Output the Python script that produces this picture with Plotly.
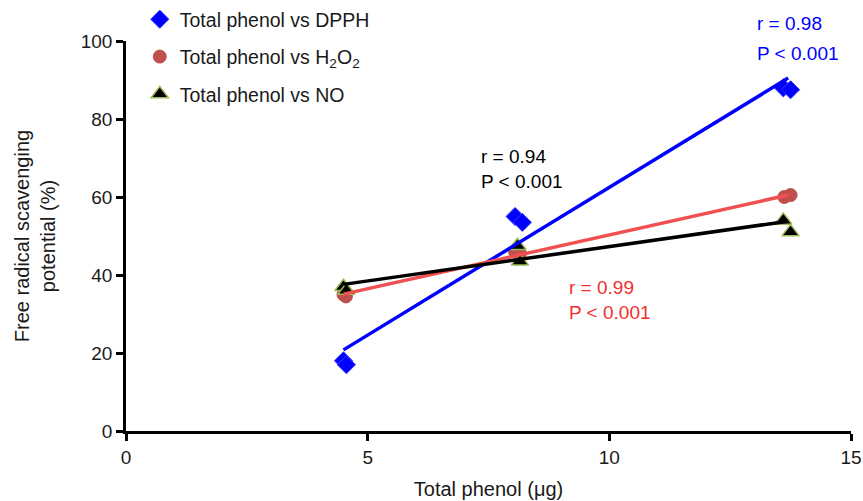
import plotly.graph_objects as go

# Data
dpph_x = [4.5, 4.56, 8.05, 8.2, 13.6, 13.75]
dpph_y = [18.0, 17.0, 55.0, 53.5, 88.0, 87.5]
h2o2_x = [4.5, 4.55, 8.05, 8.15, 13.62, 13.75]
h2o2_y = [35.0, 34.5, 46.0, 45.5, 60.0, 60.5]
no_x = [4.5, 4.56, 8.1, 8.15, 13.6, 13.75]
no_y = [37.0, 36.0, 47.5, 43.5, 54.0, 51.0]

fit_x = [4.5, 13.7]
fit_dpph = [20.8, 90.5]
fit_h2o2 = [35.1, 60.5]
fit_no = [37.6, 53.8]

x_ticks = [0, 5, 10, 15]
y_ticks = [0, 20, 40, 60, 80, 100]

FONT = "Liberation Sans, Arial, sans-serif"
TXT = "#1a1a1a"

fig = go.Figure()

fig.add_trace(go.Scatter(x=dpph_x, y=dpph_y, mode="markers", name="Total phenol vs DPPH",
                         legendgroup="a",
                         marker=dict(symbol="diamond", size=14, color="#0000ff",
                                     line=dict(color="#3a3aff", width=1))))
fig.add_trace(go.Scatter(x=h2o2_x, y=h2o2_y, mode="markers",
                         name="Total phenol vs H<sub>2</sub>O<sub>2</sub>",
                         legendgroup="b",
                         marker=dict(symbol="circle", size=13, color="#c0504d",
                                     line=dict(color="#c0504d", width=1))))
fig.add_trace(go.Scatter(x=no_x, y=no_y, mode="markers", name="Total phenol vs NO",
                         legendgroup="c",
                         marker=dict(symbol="triangle-up", size=15, color="#000000",
                                     line=dict(color="#9bbb59", width=1.5))))

fig.add_trace(go.Scatter(x=fit_x, y=fit_dpph, mode="lines", showlegend=False,
                         line=dict(color="#0000ff", width=3.5)))
fig.add_trace(go.Scatter(x=fit_x, y=fit_h2o2, mode="lines", showlegend=False,
                         line=dict(color="#f05050", width=3.5)))
fig.add_trace(go.Scatter(x=fit_x, y=fit_no, mode="lines", showlegend=False,
                         line=dict(color="#000000", width=3.5)))

ann_font = dict(family=FONT, size=19)
fig.add_annotation(x=0.868, y=1.046, xref="paper", yref="paper", text="r = 0.98",
                   showarrow=False, align="left", xanchor="left", yanchor="middle",
                   font=dict(color="#0000ff", **ann_font))
fig.add_annotation(x=0.868, y=0.967, xref="paper", yref="paper", text="P < 0.001",
                   showarrow=False, align="left", xanchor="left", yanchor="middle",
                   font=dict(color="#0000ff", **ann_font))
fig.add_annotation(x=7.3, y=67.2, xref="x", yref="y", text="r = 0.94<br>P < 0.001",
                   showarrow=False, align="left", xanchor="left", yanchor="middle",
                   font=dict(color="#000000", **ann_font))
fig.add_annotation(x=9.12, y=33.5, xref="x", yref="y", text="r = 0.99<br>P < 0.001",
                   showarrow=False, align="left", xanchor="left", yanchor="middle",
                   font=dict(color="#f03030", **ann_font))

fig.update_layout(
    width=863, height=501,
    margin=dict(l=126, r=12, t=41, b=70, autoexpand=False),
    paper_bgcolor="white", plot_bgcolor="white",
    font=dict(family=FONT, size=19, color=TXT),
    legend=dict(x=0.019, y=1.105, xanchor="left", yanchor="top",
                bgcolor="rgba(0,0,0,0)", tracegroupgap=9,
                font=dict(family=FONT, size=19.5, color=TXT),
                itemwidth=30),
    xaxis=dict(range=[0, 15], tickvals=x_ticks, showgrid=False, zeroline=False,
               showline=True, linecolor="black", linewidth=2.5,
               ticks="outside", ticklen=7, tickwidth=2.5, tickcolor="black",
               tickfont=dict(family=FONT, size=19, color=TXT),
               title=dict(text="Total phenol (μg)", standoff=16,
                          font=dict(family=FONT, size=20, color=TXT))),
    yaxis=dict(range=[0, 100], tickvals=y_ticks, showgrid=False, zeroline=False,
               showline=True, linecolor="black", linewidth=2.5,
               ticks="outside", ticklen=7, tickwidth=2.5, tickcolor="black",
               tickfont=dict(family=FONT, size=19, color=TXT),
               title=dict(text="Free radical scavenging<br>potential (%)", standoff=20,
                          font=dict(family=FONT, size=20, color=TXT))),
)

fig.write_html("out.html",
               config={"displayModeBar": False},
               post_script="document.body.style.margin='0';document.body.style.overflow='hidden';")
